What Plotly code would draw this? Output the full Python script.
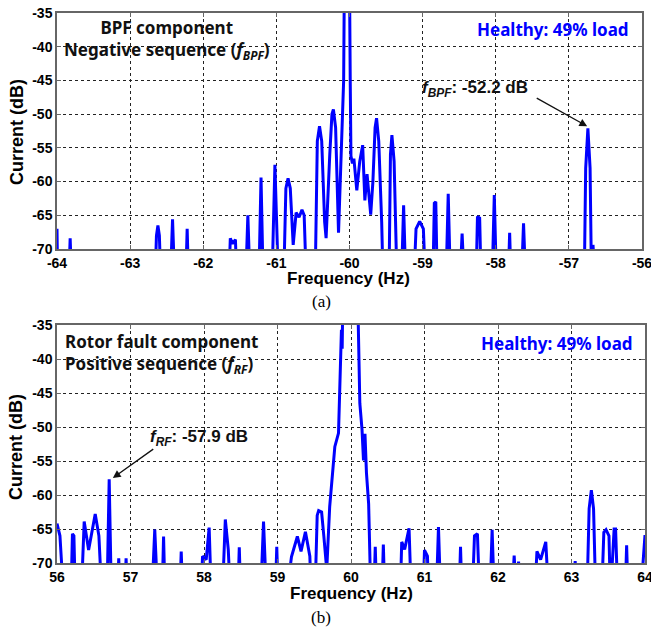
import plotly.graph_objects as go

W, H = 651, 629

# ---------------- data ----------------
# (a) BPF component, negative sequence spectrum: frequency (Hz) and current (dB)
bpf_freq = [
    -64.00, -63.99,
    -63.84, -63.82, -63.80,
    -62.66, -62.64, -62.62, -62.60, -62.58,
    -62.45, -62.42, -62.39,
    -62.24, -62.22, -62.20,
    -61.65, -61.63, -61.60, -61.56, -61.54,
    -61.42, -61.39, -61.36,
    -61.24, -61.21, -61.18,
    -61.06, -61.02, -60.98,
    -60.90, -60.87, -60.84, -60.81, -60.77, -60.73, -60.69, -60.65, -60.62, -60.59,
    -60.47, -60.44, -60.41, -60.38, -60.34, -60.32, -60.27, -60.24, -60.22, -60.19, -60.15,
    -60.12, -60.08, -60.07, -60.00, -59.99, -59.98,
    -59.96, -59.94, -59.90, -59.86, -59.82, -59.79, -59.76, -59.73, -59.71, -59.68,
    -59.65, -59.63, -59.60, -59.56, -59.54,
    -59.46, -59.44, -59.42, -59.39, -59.35,
    -59.29, -59.26, -59.23,
    -59.12, -59.09, -59.04, -58.99, -58.96,
    -58.86, -58.84, -58.82, -58.80,
    -58.68, -58.65, -58.62,
    -58.49, -58.46, -58.43,
    -58.27, -58.25, -58.22, -58.20,
    -58.05, -58.02, -57.99,
    -57.83, -57.81, -57.79,
    -57.65, -57.62, -57.59,
    -56.79, -56.77, -56.74, -56.71, -56.69, -56.67, -56.64,
    -56.00,
]
bpf_db = [
    -67.0, -75,
    -75, -68.4, -75,
    -75, -68.0, -66.5, -68.0, -75,
    -75, -65.6, -75,
    -75, -67.0, -75,
    -75, -68.4, -69.2, -68.6, -75,
    -75, -65.0, -75,
    -75, -59.4, -75,
    -75, -57.5, -72,
    -75, -61.0, -59.5, -61.0, -69.4, -64.6, -65.3, -64.2, -65.0, -75,
    -75, -54.0, -51.8, -54.0, -66.0, -68.4, -56.0, -50.0, -49.3, -52.0, -67.6,
    -58.0, -45.0, -30.0, -30.0, -45.0, -56.2,
    -57.3, -56.6, -61.3, -57.0, -54.6, -62.8, -58.9, -62.0, -64.9, -60.0,
    -52.0, -50.6, -54.0, -66.0, -75,
    -75, -56.0, -53.1, -57.0, -75,
    -75, -63.5, -75,
    -75, -67.0, -65.9, -67.0, -75,
    -75, -63.2, -63.0, -75,
    -75, -61.8, -75,
    -75, -67.7, -75,
    -75, -65.2, -65.4, -75,
    -75, -62.0, -75,
    -75, -67.6, -75,
    -75, -66.2, -75,
    -75, -58.0, -52.1, -58.0, -75, -69.4, -75,
    -75,
]

# (b) Rotor fault component, positive sequence spectrum
rf_freq = [
    56.00, 56.04, 56.09,
    56.19, 56.21, 56.23, 56.25,
    56.33, 56.37, 56.43, 56.52, 56.57, 56.61,
    56.68, 56.71, 56.74,
    56.82, 56.84, 56.86, 56.92, 56.94, 56.96,
    57.29, 57.33, 57.37,
    57.43, 57.45, 57.47,
    57.67, 57.69, 57.71,
    57.96, 57.98, 58.03, 58.07, 58.10,
    58.25, 58.29, 58.33, 58.36,
    58.46, 58.48, 58.50,
    58.77, 58.81, 58.85,
    58.97, 58.99, 59.01,
    59.12, 59.19, 59.27, 59.32, 59.38, 59.44, 59.46,
    59.51, 59.54, 59.56, 59.60, 59.63, 59.67, 59.71, 59.78, 59.83, 59.86, 59.87, 59.88, 59.89,
    60.09, 60.12, 60.15, 60.17, 60.19, 60.21, 60.24, 60.27,
    60.31, 60.33, 60.35,
    60.42, 60.44, 60.46,
    60.67, 60.69, 60.73, 60.79, 60.82,
    60.98, 61.00, 61.04, 61.06,
    61.16, 61.19, 61.22,
    61.47, 61.49, 61.51,
    61.65, 61.68, 61.72, 61.75,
    61.89, 61.92, 61.95,
    62.19, 62.22, 62.25, 62.28, 62.30,
    62.50, 62.53, 62.58, 62.65, 62.69,
    63.03, 63.05, 63.07,
    63.21, 63.24, 63.27, 63.30, 63.33,
    63.41, 63.44, 63.47, 63.51, 63.53, 63.58, 63.60, 63.63,
    63.73, 63.75, 63.77,
    63.94, 64.00,
]
rf_db = [
    -64.2, -66.0, -75,
    -75, -65.7, -66.0, -75,
    -75, -63.9, -68.1, -62.8, -66.0, -75,
    -75, -57.7, -75,
    -75, -69.3, -75, -75, -69.3, -75,
    -75, -65.1, -75,
    -75, -66.1, -75,
    -75, -68.3, -75,
    -75, -69.0, -69.5, -64.8, -75,
    -75, -63.6, -68.0, -75,
    -75, -67.7, -75,
    -75, -63.9, -75,
    -75, -67.6, -75,
    -75, -69.1, -66.1, -68.3, -65.4, -69.0, -75,
    -75, -63.0, -62.3, -62.5, -66.0, -71.0, -61.7, -52.9, -50.9, -41.6, -35.7, -38.5, -30.0,
    -30.0, -46.5, -50.4, -54.9, -51.0, -56.7, -61.3, -75,
    -75, -67.6, -75,
    -75, -67.3, -75,
    -75, -66.9, -68.0, -64.9, -75,
    -75, -68.1, -69.0, -75,
    -75, -64.7, -75,
    -75, -67.6, -75,
    -75, -66.0, -65.7, -75,
    -75, -65.1, -75,
    -75, -68.9, -75, -69.8, -75,
    -75, -68.3, -69.5, -66.9, -75,
    -75, -69.7, -75,
    -75, -62.0, -59.3, -62.0, -75,
    -75, -65.5, -65.1, -66.0, -75, -65.0, -65.0, -75,
    -75, -67.4, -75,
    -75, -65.9,
]

top_ticks = [-64, -63, -62, -61, -60, -59, -58, -57, -56]
bot_ticks = [56, 57, 58, 59, 60, 61, 62, 63, 64]
y_ticks = [-35, -40, -45, -50, -55, -60, -65, -70]

# ---------------- layout helpers ----------------
def px(x):
    return x / W

def py(y):
    return 1 - y / H

BLUE = "#0000ff"
TICKFONT = dict(family="Liberation Sans, Arial, sans-serif", size=14, color="#000")
LABFONT = dict(family="Liberation Sans, Arial, sans-serif", size=17, color="#000")
KFONT = "Noto Sans, Open Sans, sans-serif"

fig = go.Figure()
fig.add_trace(go.Scatter(x=bpf_freq, y=bpf_db, mode="lines",
                         line=dict(color=BLUE, width=3), xaxis="x", yaxis="y",
                         showlegend=False))
fig.add_trace(go.Scatter(x=rf_freq, y=rf_db, mode="lines",
                         line=dict(color=BLUE, width=3), xaxis="x2", yaxis="y2",
                         showlegend=False))

def xax(domain, rng, ticks, anchor):
    return dict(domain=domain, range=rng, tickvals=ticks,
                ticktext=[f"<b>{t}</b>" for t in ticks], tickfont=TICKFONT,
                showgrid=True, gridcolor="#222", griddash="dot", gridwidth=1,
                showline=True, linecolor="#666", linewidth=1.5, mirror="ticks",
                ticks="inside", ticklen=4, tickcolor="#666", ticklabeloverflow="allow",
                zeroline=False, anchor=anchor, fixedrange=True, automargin=False)

def yax(domain, anchor):
    return dict(domain=domain, range=[-70, -35], tickvals=y_ticks,
                ticktext=[f"<b>{t}</b>" for t in y_ticks], tickfont=TICKFONT,
                showgrid=True, gridcolor="#222", griddash="dot", gridwidth=1,
                showline=True, linecolor="#666", linewidth=1.5, mirror="ticks",
                ticks="inside", ticklen=4, tickcolor="#666", ticklabeloverflow="allow",
                zeroline=False, anchor=anchor, fixedrange=True, automargin=False)

fig.update_layout(
    width=W, height=H, margin=dict(l=0, r=0, t=0, b=0, autoexpand=False),
    paper_bgcolor="white", plot_bgcolor="white",
    xaxis=xax([px(57), px(642)], [-64, -56], top_ticks, "y"),
    yaxis=yax([py(249), py(13)], "x"),
    xaxis2=xax([px(57), px(645)], [56, 64], bot_ticks, "y2"),
    yaxis2=yax([py(563), py(325)], "x2"),
)

ann = []
# axis titles
ann.append(dict(text="<b>Frequency (Hz)</b>", x=px(348), y=py(278), xref="paper", yref="paper",
                showarrow=False, font=LABFONT, xanchor="center", yanchor="middle"))
ann.append(dict(text="<b>Frequency (Hz)</b>", x=px(351), y=py(593), xref="paper", yref="paper",
                showarrow=False, font=LABFONT, xanchor="center", yanchor="middle"))
ann.append(dict(text="<b>Current (dB)</b>", x=px(17), y=py(132), xref="paper", yref="paper",
                showarrow=False, font=dict(family="Liberation Sans, Arial, sans-serif", size=18, color="#000"),
                textangle=-90, xanchor="center", yanchor="middle"))
ann.append(dict(text="<b>Current (dB)</b>", x=px(16), y=py(447), xref="paper", yref="paper",
                showarrow=False, font=dict(family="Liberation Sans, Arial, sans-serif", size=18, color="#000"),
                textangle=-90, xanchor="center", yanchor="middle"))
# panel labels
ann.append(dict(text="(a)", x=px(321), y=py(301), xref="paper", yref="paper", showarrow=False,
                font=dict(family="Liberation Serif, Times New Roman, serif", size=17, color="#000")))
ann.append(dict(text="(b)", x=px(321), y=py(628), xref="paper", yref="paper", showarrow=False,
                xanchor="center", yanchor="bottom", borderpad=0,
                font=dict(family="Liberation Serif, Times New Roman, serif", size=17, color="#000")))
# in-plot titles
ann.append(dict(text="<b>BPF component</b><br><b>Negative sequence (<i>f</i><sub><i>BPF</i></sub>)</b>",
                x=px(167), y=py(39), xref="paper", yref="paper", showarrow=False, align="center",
                xanchor="center", yanchor="middle",
                font=dict(family=KFONT, size=17, color="#111")))
ann.append(dict(text="<b>Rotor fault component</b><br><b>Positive sequence (<i>f</i><sub><i>RF</i></sub>)</b>",
                x=px(63), y=py(353), xref="paper", yref="paper", showarrow=False, align="left",
                xanchor="left", yanchor="middle",
                font=dict(family=KFONT, size=17, color="#111")))
ann.append(dict(text="<b>Healthy: 49% load</b>", x=px(631), y=py(30), xref="paper", yref="paper",
                showarrow=False, xanchor="right", yanchor="middle",
                font=dict(family=KFONT, size=17, color=BLUE)))
ann.append(dict(text="<b>Healthy: 49% load</b>", x=px(635), y=py(343), xref="paper", yref="paper",
                showarrow=False, xanchor="right", yanchor="middle",
                font=dict(family=KFONT, size=17, color=BLUE)))
# value labels
ann.append(dict(text="<b><i>f</i></b><sub><b><i>BPF</i></b></sub><b>: -52.2 dB</b>", x=px(420), y=py(89),
                xref="paper", yref="paper", showarrow=False, xanchor="left", yanchor="middle",
                font=dict(family="Liberation Sans, Arial, sans-serif", size=17, color="#111")))
ann.append(dict(text="<b><i>f</i></b><sub><b><i>RF</i></b></sub><b>: -57.9 dB</b>", x=px(148), y=py(438),
                xref="paper", yref="paper", showarrow=False, xanchor="left", yanchor="middle",
                font=dict(family="Liberation Sans, Arial, sans-serif", size=17, color="#111")))
# arrows
ann.append(dict(text="", x=-56.75, y=-51.8, xref="x", yref="y", ax=-57.46, ay=-47.5,
                axref="x", ayref="y", showarrow=True, arrowhead=2, arrowsize=1.2,
                arrowwidth=1.3, arrowcolor="#111"))
ann.append(dict(text="", x=56.76, y=-57.5, xref="x2", yref="y2", ax=57.33, ay=-53.1,
                axref="x2", ayref="y2", showarrow=True, arrowhead=2, arrowsize=1.2,
                arrowwidth=1.3, arrowcolor="#111"))
fig.update_layout(annotations=ann)

fig.write_html("out.html")
